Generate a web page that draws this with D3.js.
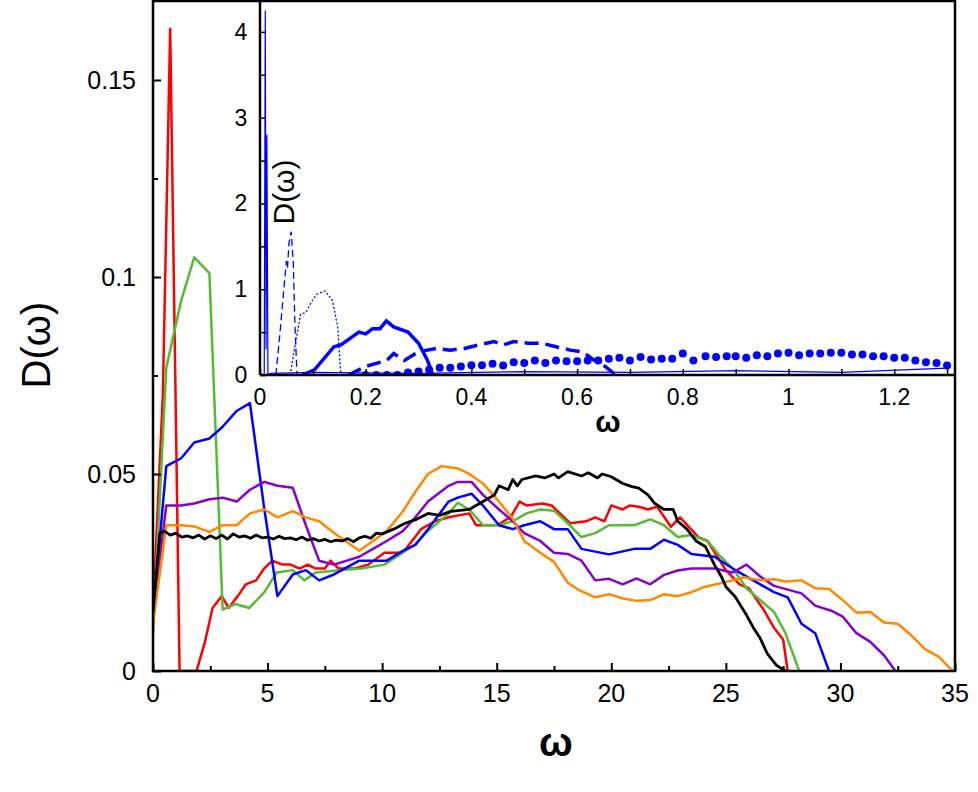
<!DOCTYPE html>
<html><head><meta charset="utf-8">
<script src="https://cdn.jsdelivr.net/npm/d3@7"></script>
<style>body{margin:0;background:#fff}svg{font-family:"Liberation Sans",Arial,sans-serif}</style>
</head><body><svg id="c" width="978" height="792"></svg>
<script>
// ---- main chart data: [omega, D]
const red = [[0,0.015],[0.43,0.07],[0.75,0.163],[1.16,0],[1.9,0],[2.25,0.007],[2.6,0.016],[3.0,0.019],[3.3,0.016],[3.7,0.019],[4.05,0.022],[4.5,0.023],[4.85,0.026],[5.2,0.028],[5.65,0.027],[6.0,0.027],[6.4,0.026],[6.75,0.027],[7.1,0.026],[7.5,0.026],[7.75,0.028],[8.1,0.026],[8.8,0.026],[9.4,0.027],[10.1,0.030],[10.4,0.030],[10.9,0.030],[11.3,0.033],[11.7,0.036],[12.3,0.038],[12.9,0.039],[13.8,0.040],[14.1,0.037],[15,0.037],[15.6,0.039],[16,0.043],[16.3,0.042],[17.0,0.0425],[17.4,0.042],[18.2,0.0375],[18.9,0.038],[19.3,0.039],[19.7,0.038],[20,0.042],[20.5,0.041],[20.8,0.042],[21.2,0.0417],[21.6,0.041],[22,0.0417],[22.6,0.0366],[23,0.039],[23.8,0.034],[24.2,0.033],[25,0.0256],[25.6,0.022],[26,0.021],[26.6,0.016],[27.1,0.011],[27.5,0.008],[27.7,0]];
const green = [[0,0.009],[0.58,0.077],[1.23,0.094],[1.8,0.105],[2.46,0.101],[3.04,0.0156],[3.6,0.017],[4.2,0.016],[4.86,0.020],[5.4,0.025],[6.1,0.0256],[6.6,0.023],[7.1,0.025],[8,0.0255],[9.1,0.026],[10.1,0.027],[10.9,0.030],[11.4,0.032],[12,0.0355],[12.9,0.040],[13.3,0.0427],[13.8,0.041],[14.4,0.037],[15.1,0.037],[15.7,0.038],[16.3,0.040],[16.9,0.041],[17.5,0.0407],[18.1,0.0375],[18.7,0.034],[19.3,0.035],[19.9,0.037],[21,0.037],[21.7,0.0385],[22.3,0.037],[22.9,0.034],[23.5,0.0345],[24.2,0.033],[24.7,0.0295],[25.3,0.026],[25.9,0.021],[26.5,0.018],[27.1,0.015],[27.6,0.0096],[28.2,0]];
const blue = [[0,0.014],[0.58,0.052],[1.23,0.054],[1.8,0.058],[2.46,0.059],[3.04,0.062],[3.65,0.066],[4.23,0.068],[4.86,0.041],[5.43,0.019],[6.1,0.0245],[6.67,0.0256],[7.25,0.023],[7.9,0.0245],[9,0.028],[9.6,0.028],[10.2,0.028],[10.9,0.0305],[11.45,0.032],[12,0.036],[12.9,0.043],[13.3,0.044],[13.9,0.045],[14.4,0.042],[15.1,0.037],[15.7,0.036],[16.2,0.037],[16.9,0.038],[17.5,0.036],[18.1,0.036],[18.7,0.031],[19.9,0.0296],[21,0.031],[21.7,0.031],[22.3,0.0333],[22.9,0.032],[23.5,0.0297],[24.5,0.029],[25.3,0.026],[26.5,0.022],[27.1,0.020],[27.7,0.0187],[28.3,0.012],[28.9,0.0096],[29.5,0]];
const purple = [[0,0.014],[0.58,0.042],[1.23,0.042],[1.8,0.0425],[2.46,0.0436],[3.04,0.044],[3.65,0.043],[4.23,0.046],[4.86,0.048],[5.43,0.047],[6.1,0.0465],[6.67,0.037],[7.25,0.028],[7.9,0.027],[9,0.029],[9.6,0.031],[10.2,0.033],[10.9,0.0355],[11.45,0.039],[12,0.043],[12.9,0.047],[13.3,0.048],[13.9,0.048],[14.4,0.0447],[15.1,0.041],[15.7,0.038],[16.2,0.035],[16.9,0.033],[17.5,0.030],[18.1,0.0297],[18.7,0.028],[19.3,0.023],[19.9,0.0234],[20.5,0.022],[21.1,0.0235],[21.7,0.022],[22.3,0.0244],[22.9,0.0255],[23.5,0.026],[24.5,0.026],[25.3,0.025],[25.9,0.027],[26.5,0.024],[27.1,0.0216],[28.3,0.0197],[28.9,0.0166],[29.6,0.0153],[30.1,0.0138],[30.7,0.0096],[31.3,0.0074],[31.9,0.004],[32.4,0]];
const orange = [[0,0.012],[0.58,0.037],[1.23,0.037],[1.8,0.0367],[2.46,0.0353],[3.04,0.037],[3.65,0.037],[4.23,0.040],[4.86,0.041],[5.43,0.039],[6.1,0.0406],[6.67,0.039],[7.25,0.038],[7.9,0.035],[9,0.0305],[9.6,0.033],[10.2,0.0355],[10.9,0.0405],[11.45,0.0455],[12,0.050],[12.6,0.052],[13.3,0.0514],[13.8,0.050],[14.4,0.0476],[15.1,0.043],[15.7,0.0387],[16.2,0.033],[16.9,0.030],[17.5,0.0277],[18.1,0.0224],[18.6,0.0205],[19.3,0.0187],[19.9,0.0195],[20.5,0.0184],[21.1,0.0178],[21.7,0.018],[22.3,0.0195],[22.9,0.019],[23.5,0.020],[24.1,0.0214],[25.3,0.023],[25.8,0.0238],[26.5,0.023],[27.1,0.0233],[27.6,0.0227],[28.3,0.023],[28.9,0.021],[29.5,0.0208],[30.1,0.018],[30.7,0.0148],[31.3,0.015],[31.9,0.0123],[32.5,0.012],[33.1,0.009],[33.7,0.0055],[34.3,0.0036],[34.9,0]];
const black = [[0,0.015],[0.3,0.035],[0.5,0.0355],[0.75,0.0345],[1,0.035],[1.25,0.034],[1.5,0.0343],[1.75,0.0338],[2,0.0345],[2.25,0.0335],[2.5,0.0343],[2.75,0.0336],[3,0.0345],[3.25,0.0335],[3.5,0.0348],[3.75,0.034],[4,0.0343],[4.25,0.0337],[4.5,0.0345],[4.75,0.0338],[5,0.034],[5.25,0.0335],[5.5,0.0342],[5.75,0.0336],[6,0.0338],[6.25,0.0333],[6.5,0.034],[6.75,0.0332],[7,0.0336],[7.25,0.033],[7.5,0.0334],[7.75,0.0328],[8,0.0332],[8.25,0.033],[8.5,0.0336],[8.75,0.0328],[9,0.0338],[9.25,0.0342],[9.5,0.0337],[9.75,0.035],[10,0.0348],[10.5,0.036],[11,0.0375],[11.5,0.0385],[12,0.040],[12.5,0.0395],[13,0.0405],[13.8,0.041],[14.4,0.043],[14.9,0.0447],[15.1,0.047],[15.5,0.046],[15.7,0.0486],[15.9,0.047],[16.1,0.0486],[16.7,0.0495],[17.1,0.049],[17.5,0.050],[17.7,0.049],[18.1,0.0506],[18.7,0.0495],[19,0.0503],[19.4,0.049],[19.6,0.050],[20,0.0493],[20.5,0.0476],[20.9,0.0468],[21.2,0.0464],[21.6,0.0447],[21.9,0.0425],[22.3,0.041],[22.7,0.041],[22.9,0.038],[23.3,0.036],[23.7,0.033],[24.1,0.0316],[24.5,0.027],[24.8,0.024],[25,0.0214],[25.4,0.0189],[25.9,0.0142],[26.2,0.011],[26.5,0.0083],[26.8,0.0045],[27.2,0.0015],[27.6,0]];
const mainSeries = [[red,"#ff0000"],[green,"#55bb33"],[blue,"#0000ff"],[purple,"#8800cc"],[orange,"#ff8800"],[black,"#000000"]];
const mainXTicks = [0,5,10,15,20,25,30,35];
const mainYTicks = [0,0.05,0.1,0.15];
const mainYLabels = ["0","0.05","0.1","0.15"];

// ---- inset data
const inSpike = [[0.008,0],[0.010,4.25],[0.0115,0.3],[0.013,2.8],[0.015,0],[0.02,0.02],[0.1,0.03],[0.3,0.02],[0.5,0.04],[0.7,0.03],[0.9,0.05],[1.1,0.03],[1.3,0.08]];
const inThinDash = [[0.03,0],[0.038,0.5],[0.045,1.0],[0.05,1.33],[0.052,1.25],[0.055,1.55],[0.059,1.67],[0.063,1.3],[0.066,0.6],[0.07,0]];
const inDotted = [[0.057,0],[0.065,0.3],[0.077,0.71],[0.087,0.73],[0.097,0.85],[0.107,0.94],[0.123,0.98],[0.137,0.87],[0.147,0.56],[0.153,0]];
const inThick = [[0.08,0.0],[0.103,0.06],[0.14,0.33],[0.153,0.35],[0.187,0.5],[0.2,0.48],[0.213,0.54],[0.227,0.54],[0.239,0.63],[0.253,0.56],[0.28,0.5],[0.3,0.37],[0.317,0.17],[0.327,0]];
const inThickDash = [[0.167,0],[0.2,0.1],[0.24,0.17],[0.253,0.25],[0.273,0.17],[0.3,0.27],[0.333,0.31],[0.36,0.29],[0.387,0.31],[0.413,0.35],[0.443,0.39],[0.46,0.35],[0.48,0.39],[0.507,0.37],[0.533,0.37],[0.56,0.33],[0.587,0.29],[0.61,0.27],[0.633,0.17],[0.653,0.1],[0.673,0]];
const inDots = [[0.2,0],[0.22,0],[0.24,0],[0.26,0],[0.28,0.03],[0.3,0.04],[0.32,0.06],[0.34,0.085],[0.36,0.085],[0.38,0.1],[0.4,0.115],[0.42,0.115],[0.44,0.13],[0.46,0.11],[0.48,0.15],[0.5,0.14],[0.52,0.17],[0.54,0.14],[0.56,0.17],[0.58,0.16],[0.6,0.16],[0.62,0.17],[0.64,0.17],[0.66,0.19],[0.68,0.2],[0.7,0.17],[0.72,0.21],[0.74,0.18],[0.76,0.19],[0.78,0.19],[0.8,0.25],[0.82,0.17],[0.843,0.22],[0.863,0.21],[0.883,0.22],[0.9,0.22],[0.92,0.2],[0.94,0.23],[0.96,0.22],[0.98,0.25],[1.0,0.26],[1.02,0.23],[1.04,0.25],[1.06,0.25],[1.08,0.26],[1.1,0.26],[1.12,0.24],[1.14,0.24],[1.16,0.22],[1.18,0.22],[1.2,0.2],[1.22,0.2],[1.24,0.17],[1.26,0.15],[1.28,0.14],[1.3,0.11]];
const inXTicks = [0,0.2,0.4,0.6,0.8,1,1.2];
const inYTicks = [0,1,2,3,4];

const svg = d3.select("#c");
const x = d3.scaleLinear().domain([0,35]).range([153,955]);
const y = d3.scaleLinear().domain([0,0.1703]).range([671,0]);
const line = d3.line().x(d=>x(d[0])).y(d=>y(d[1]));
svg.append("clipPath").attr("id","mc").append("rect").attr("x",153).attr("y",0).attr("width",802).attr("height",671);
const gm = svg.append("g").attr("clip-path","url(#mc)");
mainSeries.forEach(([d,c])=>gm.append("path").attr("d",line(d)).attr("fill","none").attr("stroke",c).attr("stroke-width",c==="#000000"?2.8:2.5).attr("stroke-linejoin","round"));
const gx=svg.append("g").attr("transform","translate(0,671)").call(d3.axisBottom(x).tickValues(d3.range(0,35.01,2.5)).tickSize(-8).tickFormat(""));
gx.selectAll(".tick line").attr("stroke-width",2).attr("y2",(d)=>d%5===0?-8:-5);
gx.select(".domain").remove();
mainXTicks.forEach(t=>svg.append("text").attr("x",x(t)).attr("y",702).attr("text-anchor","middle").attr("font-size",25).text(t));
const gy=svg.append("g").attr("transform","translate(153,0)").call(d3.axisLeft(y).tickValues(d3.range(0,0.16,0.025)).tickSize(-8).tickFormat(""));
gy.selectAll(".tick line").attr("stroke-width",2).attr("x2",(d)=>Math.abs(d/0.05-Math.round(d/0.05))<1e-6?8:5);
gy.select(".domain").remove();
mainYTicks.forEach((t,i)=>svg.append("text").attr("x",136).attr("y",y(t)+9).attr("text-anchor","end").attr("font-size",25).text(mainYLabels[i]));
svg.append("text").attr("transform","translate(50,345) rotate(-90)").attr("text-anchor","middle").attr("font-size",40).text("D(ω)");
svg.append("text").attr("x",556).attr("y",756).attr("text-anchor","middle").attr("font-size",40).attr("font-weight","bold").text("ω");

// inset
const xi = d3.scaleLinear().domain([0,1.315]).range([260,955]);
const yi = d3.scaleLinear().domain([0,4.36]).range([375,1]);
const li = d3.line().x(d=>xi(d[0])).y(d=>yi(d[1]));
svg.append("rect").attr("x",260).attr("y",1).attr("width",695).attr("height",374).attr("fill","#fff");
svg.append("clipPath").attr("id","ic").append("rect").attr("x",260).attr("y",1).attr("width",695).attr("height",374);
const gi = svg.append("g").attr("clip-path","url(#ic)");
const B="#0000ff";
gi.append("path").attr("d",li(inSpike)).attr("fill","none").attr("stroke",B).attr("stroke-width",1.2);
gi.append("path").attr("d",li(inThinDash)).attr("fill","none").attr("stroke",B).attr("stroke-width",1.3).attr("stroke-dasharray","7,4");
gi.append("path").attr("d",li(inDotted)).attr("fill","none").attr("stroke",B).attr("stroke-width",1.3).attr("stroke-dasharray","2,2");
gi.append("path").attr("d",li(inThick)).attr("fill","none").attr("stroke",B).attr("stroke-width",3.5);
gi.append("path").attr("d",li(inThickDash)).attr("fill","none").attr("stroke",B).attr("stroke-width",3.5).attr("stroke-dasharray","14,7");
gi.selectAll("circle").data(inDots).join("circle").attr("cx",d=>xi(d[0])).attr("cy",d=>yi(d[1])).attr("r",4).attr("fill",B);
const gxi=svg.append("g").attr("transform","translate(0,375)").call(d3.axisBottom(xi).tickValues(d3.range(0,1.31,0.1)).tickSize(-6).tickFormat(""));
gxi.selectAll(".tick line").attr("stroke-width",1.5);gxi.select(".domain").remove();
inXTicks.forEach(t=>svg.append("text").attr("x",xi(t)).attr("y",405).attr("text-anchor","middle").attr("font-size",23).text(t));
const gyi=svg.append("g").attr("transform","translate(260,0)").call(d3.axisLeft(yi).tickValues(d3.range(0,4.1,0.5)).tickSize(-6).tickFormat(""));
gyi.selectAll(".tick line").attr("stroke-width",1.5);gyi.select(".domain").remove();
inYTicks.forEach(t=>svg.append("text").attr("x",241).attr("y",yi(t)+8).attr("text-anchor","middle").attr("font-size",23).text(t));
svg.append("line").attr("x1",260).attr("x2",260).attr("y1",0).attr("y2",375).attr("stroke","#000").attr("stroke-width",2.5);
svg.append("line").attr("x1",260).attr("x2",955).attr("y1",375).attr("y2",375).attr("stroke","#000").attr("stroke-width",2.5);
svg.append("rect").attr("x",153).attr("y",1).attr("width",802).attr("height",670).attr("fill","none").attr("stroke","#000").attr("stroke-width",2.5);
svg.append("text").attr("transform","translate(294,192) rotate(-90)").attr("text-anchor","middle").attr("font-size",30).text("D(ω)");
svg.append("text").attr("x",608).attr("y",432).attr("text-anchor","middle").attr("font-size",30).attr("font-weight","bold").text("ω");
</script></body></html>
